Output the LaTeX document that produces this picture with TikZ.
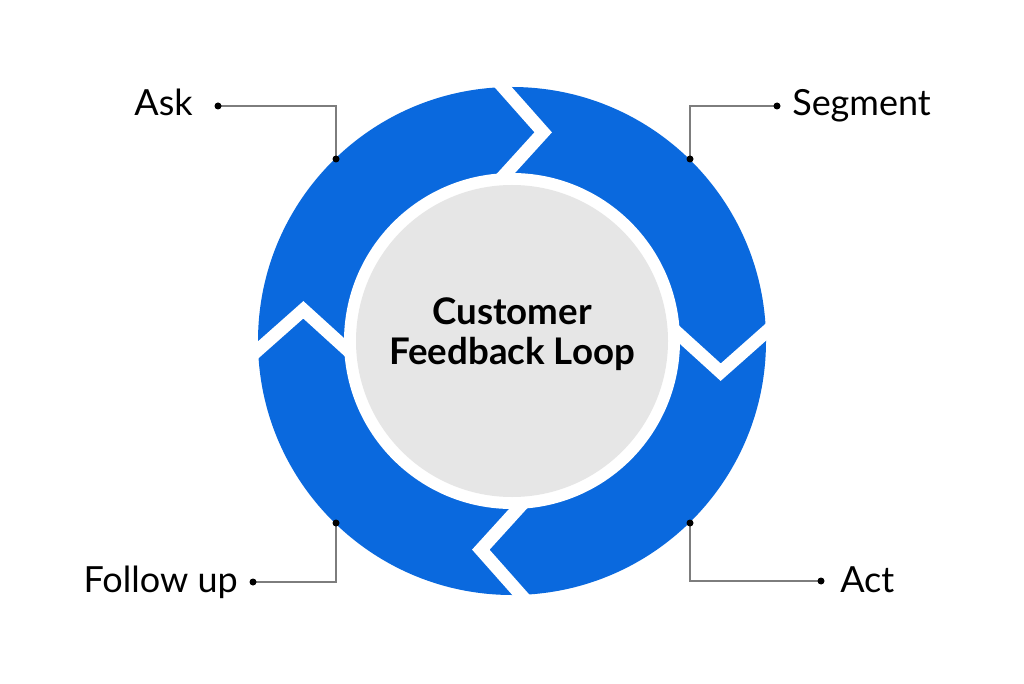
\documentclass[tikz,border=0pt]{standalone}
\usepackage{fontspec}
\setmainfont{Lato}
\usetikzlibrary{calc}
\definecolor{ringblue}{HTML}{0A69DE}
\definecolor{coregray}{HTML}{E6E6E6}
\definecolor{leadgray}{HTML}{7D7D7D}
\begin{document}
\begin{tikzpicture}[x=0.75pt,y=0.75pt,
  gapline/.style={white, line width=9.75pt, line join=miter, line cap=butt},
  lead/.style={leadgray, line width=1pt},
  dotnode/.style={circle, fill=black, inner sep=0pt, minimum size=5.25pt},
  lbl/.style={font=\fontsize{27}{32}\selectfont, inner sep=0pt, text=black}]
\useasboundingbox[fill=white] (0,0) rectangle (1024,683);
\coordinate (c) at (512,342);
\fill[ringblue] (c) circle[radius=254];
\foreach \t in {2,92,182,272}{
  \coordinate (po) at ($(c)+(\t:254)$);
  \coordinate (pa) at ($(c)+(\t-10.5:211)$);
  \coordinate (pi) at ($(c)+(\t:168)$);
  \draw[gapline] ($(pa)!1.6!(po)$) -- (pa) -- ($(pa)!1.5!(pi)$);
}
\fill[white] (c) circle[radius=168];
\fill[coregray] (c) circle[radius=156];
\node[font=\bfseries\fontsize{27.5}{30}\selectfont, align=center, inner sep=0pt] (core) at (512,349) {Customer\\Feedback Loop};
% leader coordinates
\coordinate (askD) at (218,577);
\coordinate (askR) at (336,524);
\coordinate (segD) at (777,577);
\coordinate (segR) at (690,524);
\coordinate (folD) at (253,101);
\coordinate (folR) at (336,160);
\coordinate (actD) at (821,102);
\coordinate (actR) at (690,160);
\draw[lead] (askD) -- (askD -| askR) -- (askR);
\draw[lead] (segD) -- (segD -| segR) -- (segR);
\draw[lead] (folD) -- (folD -| folR) -- (folR);
\draw[lead] (actD) -- (actD -| actR) -- (actR);
\foreach \p in {askD,askR,segD,segR,folD,folR,actD,actR}{
  \node[dotnode] (dot\p) at (\p) {};
}
\node[lbl, anchor=base east] (ask) at (193,567) {Ask};
\node[lbl, anchor=base west] (seg) at (792,567) {Segment};
\node[lbl, anchor=base east] (fol) at (238,91) {Follow up};
\node[lbl, anchor=base west] (act) at (840,91) {Act};
\end{tikzpicture}
\end{document}
